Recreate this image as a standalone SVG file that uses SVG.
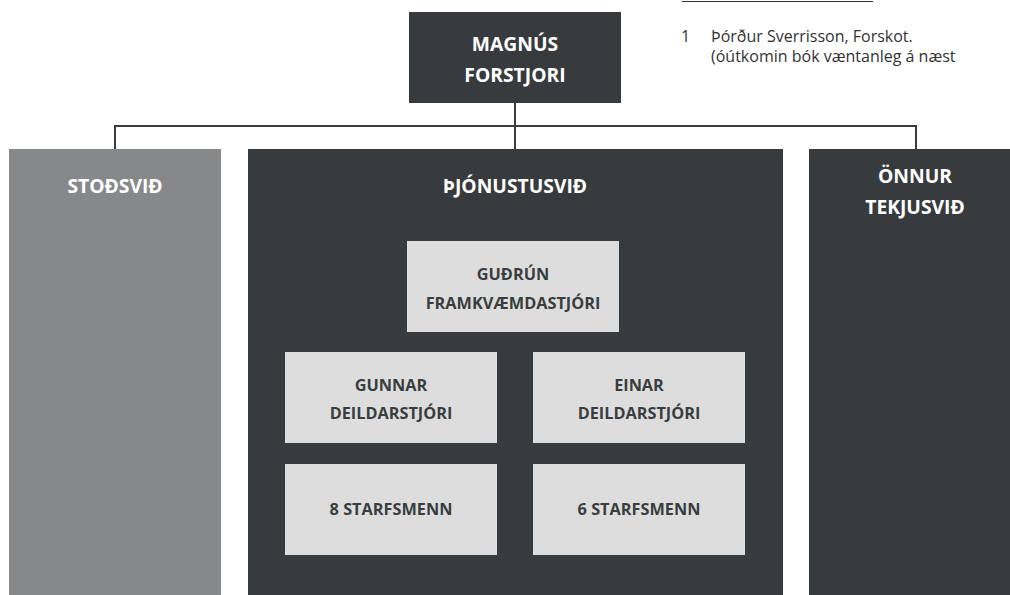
<svg xmlns="http://www.w3.org/2000/svg" width="1010" height="595" viewBox="0 0 1010 595">
  <style>
    .dark { fill: #383b3d; }
    .mid { fill: #87888a; }
    .light { fill: #dddddd; }
    .t { font-family: "Open Sans", "Liberation Sans", sans-serif; font-weight: 700; font-size: 16.3px; text-anchor: middle; }
    .big { font-size: 19.3px; }
    .tw { fill: #ffffff; }
    .td { fill: #3a3d3f; }
    .fn { font-family: "Open Sans", "Liberation Sans", sans-serif; font-size: 16px; fill: #333333; }
    .c1 { stroke: #3a3d3f; stroke-width: 2; fill: none; }
    .c2 { stroke: #e6e6e6; stroke-width: 1; fill: none; }
  </style>

  <g id="footnote">
    <line x1="682" y1="1.5" x2="873" y2="1.5" stroke="#333333" stroke-width="1"/>
    <text class="fn" x="681" y="42">1</text>
    <text class="fn" x="711" y="42">Þórður Sverrisson, Forskot.</text>
    <text class="fn" x="711" y="62">(óútkomin bók væntanleg á næst</text>
  </g>

  <g id="connectors">
    <path class="c1" d="M515 103 V126 M115 149 V126 H916 V149 M515 126 V149"/>
    <path class="c2" d="M513.5 332 V343.5 M391.5 352 V343.5 H639.5 V352 M391.5 443 V464 M639.5 443 V464"/>
  </g>

  <g id="magnus">
    <rect class="dark" x="409" y="12" width="212" height="91"/>
    <text class="t big tw" x="515" y="51">MAGNÚS</text>
    <text class="t big tw" x="515" y="82">FORSTJORI</text>
  </g>

  <g id="stodsvid">
    <rect class="mid" x="9" y="149" width="212" height="446"/>
    <text class="t big tw" x="115" y="193">STOÐSVIÐ</text>
  </g>

  <g id="thjonustusvid">
    <rect class="dark" x="248" y="149" width="535" height="446"/>
    <text class="t big tw" x="515" y="193">ÞJÓNUSTUSVIÐ</text>
  </g>

  <g id="onnur">
    <rect class="dark" x="809" y="149" width="212" height="446"/>
    <text class="t big tw" x="915" y="183">ÖNNUR</text>
    <text class="t big tw" x="915" y="214">TEKJUSVIÐ</text>
  </g>

  <g id="gudrun">
    <rect class="light" x="407" y="241" width="212" height="91"/>
    <text class="t td" x="513" y="280">GUÐRÚN</text>
    <text class="t td" x="513" y="309">FRAMKVÆMDASTJÓRI</text>
  </g>

  <g id="gunnar">
    <rect class="light" x="285" y="352" width="212" height="91"/>
    <text class="t td" x="391" y="391">GUNNAR</text>
    <text class="t td" x="391" y="419">DEILDARSTJÓRI</text>
  </g>

  <g id="einar">
    <rect class="light" x="533" y="352" width="212" height="91"/>
    <text class="t td" x="639" y="391">EINAR</text>
    <text class="t td" x="639" y="419">DEILDARSTJÓRI</text>
  </g>

  <g id="starfsmenn8">
    <rect class="light" x="285" y="464" width="212" height="91"/>
    <text class="t td" x="391" y="515">8 STARFSMENN</text>
  </g>

  <g id="starfsmenn6">
    <rect class="light" x="533" y="464" width="212" height="91"/>
    <text class="t td" x="639" y="515">6 STARFSMENN</text>
  </g>
</svg>
